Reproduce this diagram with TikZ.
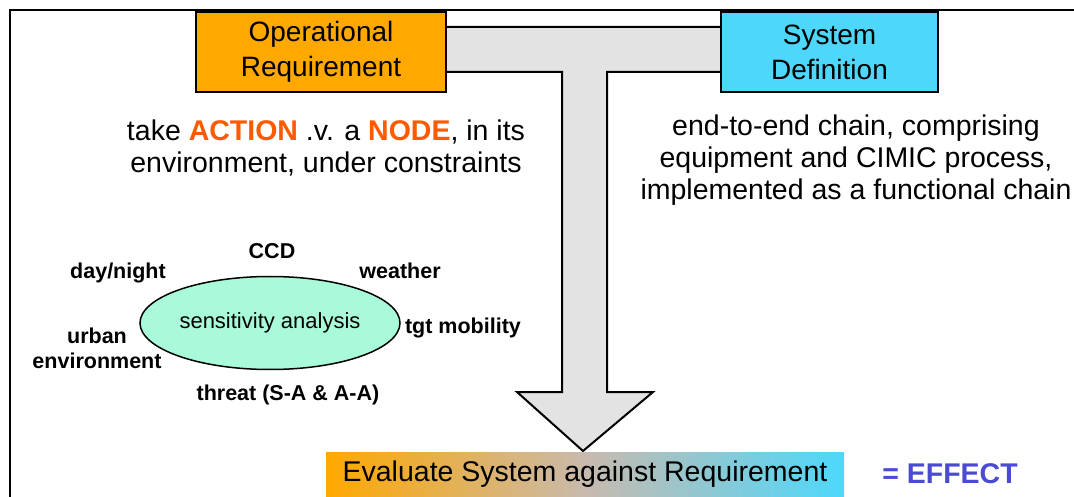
\documentclass[tikz,border=0pt]{standalone}
\usepackage{fontspec}
\setmainfont{Liberation Sans}
\usetikzlibrary{positioning,shapes.geometric}

\definecolor{reqorange}{HTML}{FFA800}
\definecolor{syscyan}{HTML}{4DD8FB}
\definecolor{hotorange}{HTML}{FF5A00}
\definecolor{effblue}{HTML}{4B4BD2}
\definecolor{sensgreen}{HTML}{A8FAD8}
\definecolor{arrowgrey}{HTML}{E3E3E3}
\definecolor{midgrey}{HTML}{C8BAAE}

\begin{document}
\begin{tikzpicture}[x=1pt,y=-1pt,
  box/.style={draw=black,line width=2pt,align=center,inner sep=0pt,
    font=\fontsize{28}{35}\selectfont},
  plain/.style={align=center,inner sep=0pt,font=\fontsize{28.5}{32}\selectfont},
  factor/.style={align=center,inner sep=0pt,font=\bfseries\fontsize{21.5}{25}\selectfont}]
\useasboundingbox (0,0) rectangle (1074,497);
% frame
\draw [line width=2.5pt] (10,497) -- (10,10) -- (1074,10);
% T arrow
\draw [fill=arrowgrey,line width=2pt,line join=miter] (440,27) -- (727,27) -- (727,72) -- (607,72) -- (607,392)
  -- (653,392) -- (583,451) -- (517,392) -- (562,392) -- (562,72) -- (440,72) -- cycle;
% top boxes
\node [box,fill=reqorange,minimum width=250pt,minimum height=80pt] (oreq) at (321,52) {Operational\\Requirement};
\node [box,fill=syscyan,minimum width=217pt,minimum height=80pt] (sysdef) at (829.5,52) {System\\Definition};
\node [plain] (action) at (326,148) {take {\bfseries\color{hotorange}ACTION} .v. a {\bfseries\color{hotorange}NODE}, in its\\environment, under constraints};
\node [plain] (chain) at (856,160) {end-to-end chain, comprising\\equipment and CIMIC process,\\implemented as a functional chain};
% sensitivity analysis
\node [draw,ellipse,line width=1.5pt,fill=sensgreen,minimum width=260pt,minimum height=93pt,inner sep=0pt,
  font=\fontsize{22}{26}\selectfont] (sens) at (270,323) {sensitivity analysis};
\node [factor] (ccd) at (272,251) {CCD};
\node [factor] (day) at (118,273) {day/night};
\node [factor] (weather) at (400,271) {weather};
\node [factor] (tgt) at (463,328) {tgt mobility};
\node [factor] (urban) at (97,348) {urban\\environment};
\node [factor] (threat) at (288,395) {threat (S-A \& A-A)};
% bottom
\node [plain,minimum width=518pt,minimum height=45pt,left color=reqorange,right color=syscyan,middle color=midgrey]
  (eval) at (585,474.5) {Evaluate System against Requirement};
\node [plain,font=\bfseries\fontsize{28.5}{32}\selectfont,text=effblue] (effect) at (950,474) {= EFFECT};
\end{tikzpicture}
\end{document}
